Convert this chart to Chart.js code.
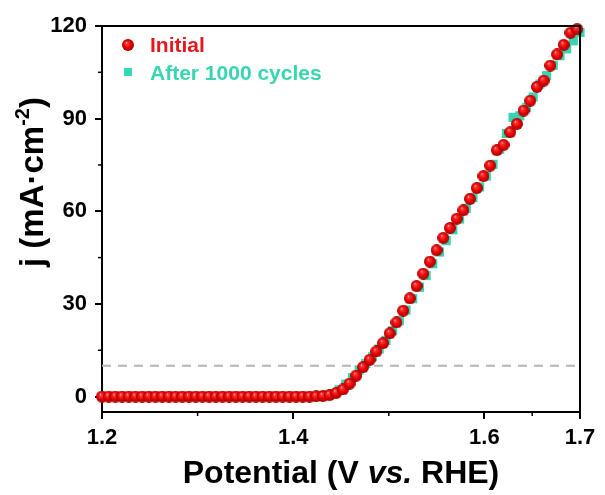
<!DOCTYPE html>
<html>
<head>
<meta charset="utf-8">
<script src="https://cdn.jsdelivr.net/npm/chart.js@4.4.1/dist/chart.umd.min.js"></script>
<style>
  body { margin: 0; background: #fff; }
  canvas { display: block; }
</style>
</head>
<body>
<canvas id="lsv" width="605" height="495"></canvas>
<script>
// potential (V vs. RHE) and current density (mA cm-2)
const potentialInitial = [
  1.200, 1.207, 1.214, 1.221, 1.228, 1.235, 1.242, 1.249, 1.256, 1.263,
  1.270, 1.277, 1.284, 1.291, 1.298, 1.305, 1.312, 1.319, 1.326, 1.333,
  1.340, 1.347, 1.354, 1.361, 1.368, 1.375, 1.382, 1.389, 1.396, 1.403,
  1.410, 1.417, 1.424, 1.431, 1.438, 1.445, 1.452, 1.459, 1.466, 1.473,
  1.480, 1.487, 1.494, 1.501, 1.508, 1.515, 1.522, 1.529, 1.536, 1.543,
  1.550, 1.557, 1.564, 1.571, 1.578, 1.585, 1.592, 1.599, 1.606, 1.613,
  1.620, 1.627, 1.634, 1.641, 1.648, 1.655, 1.662, 1.669, 1.676, 1.683,
  1.690, 1.697
];
const currentInitial = [
  0, 0, 0, 0, 0, 0, 0, 0, 0, 0,
  0, 0, 0, 0, 0, 0, 0, 0, 0, 0,
  0, 0, 0, 0, 0, 0, 0, 0, 0, 0,
  0, 0, 0.1, 0.2, 0.5, 1.2, 2.3, 4.2, 6.8, 9.5,
  11.9, 14.6, 17.3, 20.5, 24.0, 27.8, 31.8, 35.8, 39.8, 43.7,
  47.4, 51.4, 54.6, 57.6, 60.3, 64.0, 67.5, 71.4, 74.8, 79.8,
  81.5, 85.6, 88.3, 92.6, 95.8, 100.3, 102.3, 107.2, 110.8, 113.9,
  117.8, 119.0
];
const potentialCycled = [
  1.203, 1.210, 1.217, 1.224, 1.231, 1.238, 1.245, 1.252, 1.259, 1.266,
  1.273, 1.280, 1.287, 1.294, 1.301, 1.308, 1.315, 1.322, 1.329, 1.336,
  1.343, 1.350, 1.357, 1.364, 1.371, 1.378, 1.385, 1.392, 1.399, 1.406,
  1.413, 1.420, 1.427, 1.434, 1.441, 1.448, 1.455, 1.462, 1.469, 1.476,
  1.483, 1.490, 1.497, 1.504, 1.511, 1.518, 1.525, 1.532, 1.539, 1.546,
  1.553, 1.560, 1.567, 1.574, 1.581, 1.588, 1.595, 1.602, 1.609, 1.616,
  1.623, 1.630, 1.637, 1.644, 1.651, 1.658, 1.665, 1.672, 1.679, 1.686,
  1.693, 1.700
];
const currentCycled = [
  0, 0, 0, 0, 0, 0, 0, 0, 0, 0,
  0, 0, 0, 0, 0, 0, 0, 0, 0, 0,
  0, 0, 0, 0, 0, 0, 0, 0, 0, 0,
  0, 0, 0.2, 0.4, 0.9, 2.2, 4.0, 6.1, 8.6, 10.7,
  12.9, 15.4, 18.2, 21.3, 24.5, 28.0, 31.7, 35.4, 39.2, 43.0,
  46.8, 50.5, 54.0, 57.5, 60.9, 64.4, 67.9, 71.4, 75.2, 80.1,
  85.2, 90.4, 90.9, 93.6, 97.0, 101.2, 103.9, 107.3, 110.4, 112.6,
  115.2, 117.9
];
// 10 mA cm-2 reference line
const refLineX = [1.2, 1.7];
const refLineY = [10, 10];

const xTicks = [1.2, 1.4, 1.6, 1.7];
const xMinorTicks = [1.3, 1.5, 1.65];
const yTicks = [0, 30, 60, 90, 120];
const yMinorTicks = [15, 45, 75, 105];

const RED = "#e3191f";
const TEAL = "#38d5b1";
const FONT = "'Liberation Sans', Arial, sans-serif";

function makeSphere(d) {
  const c = document.createElement("canvas");
  c.width = c.height = d;
  const g = c.getContext("2d");
  const r = d / 2;
  const grad = g.createRadialGradient(r * 0.72, r * 0.62, 0, r, r, r);
  grad.addColorStop(0, "#ffe4e4");
  grad.addColorStop(0.18, "#ff3a3a");
  grad.addColorStop(0.65, "#e20000");
  grad.addColorStop(1, "#a00000");
  g.fillStyle = grad;
  g.beginPath();
  g.arc(r, r, r, 0, Math.PI * 2);
  g.fill();
  return c;
}
const sphere = makeSphere(12);

const toPoints = (xs, ys) => xs.map((v, i) => ({ x: v, y: ys[i] }));

const framePlugin = {
  id: "frameAndText",
  afterDraw(chart) {
    const { ctx, chartArea: a, scales } = chart;
    const x = scales.x, y = scales.y;
    ctx.save();
    // top and right frame
    ctx.strokeStyle = "#000";
    ctx.lineWidth = 2;
    ctx.beginPath();
    ctx.moveTo(a.left, a.top);
    ctx.lineTo(a.right, a.top);
    ctx.lineTo(a.right, a.bottom);
    ctx.stroke();

    // minor ticks
    ctx.lineWidth = 1.5;
    yMinorTicks.forEach(v => {
      const py = y.getPixelForValue(v);
      ctx.beginPath();
      ctx.moveTo(a.left, py);
      ctx.lineTo(a.left - 4, py);
      ctx.stroke();
    });
    xMinorTicks.forEach(v => {
      const px = x.getPixelForValue(v);
      ctx.beginPath();
      ctx.moveTo(px, a.bottom);
      ctx.lineTo(px, a.bottom + 4);
      ctx.stroke();
    });

    // x title with italic "vs."
    ctx.fillStyle = "#000";
    ctx.textBaseline = "alphabetic";
    ctx.textAlign = "left";
    const parts = [
      ["Potential (V ", "bold 32px " + FONT],
      ["vs.", "italic bold 32px " + FONT],
      [" RHE)", "bold 32px " + FONT]
    ];
    let total = 0;
    parts.forEach(p => { ctx.font = p[1]; total += ctx.measureText(p[0]).width; });
    let cx = (a.left + a.right) / 2 - total / 2;
    parts.forEach(p => {
      ctx.font = p[1];
      ctx.fillText(p[0], cx, 483);
      cx += ctx.measureText(p[0]).width;
    });

    // y title, rotated
    ctx.save();
    ctx.translate(43, 182);
    ctx.rotate(-Math.PI / 2);
    const yParts = [
      ["j (mA\u00b7cm", "bold 33px " + FONT, 0],
      ["-2", "bold 20px " + FONT, -14],
      [")", "bold 33px " + FONT, 0]
    ];
    total = 0;
    yParts.forEach(p => { ctx.font = p[1]; total += ctx.measureText(p[0]).width; });
    cx = -total / 2;
    yParts.forEach(p => {
      ctx.font = p[1];
      ctx.fillText(p[0], cx, p[2]);
      cx += ctx.measureText(p[0]).width;
    });
    ctx.restore();

    // legend
    ctx.drawImage(sphere, 128 - 6, 45 - 6, 12, 12);
    ctx.fillStyle = TEAL;
    ctx.fillRect(124, 68, 8, 8);
    ctx.font = "bold 21px " + FONT;
    ctx.fillStyle = RED;
    ctx.fillText("Initial", 150, 52);
    ctx.fillStyle = TEAL;
    ctx.fillText("After 1000 cycles", 150, 80);
    ctx.restore();
  }
};

new Chart(document.getElementById("lsv").getContext("2d"), {
  type: "scatter",
  data: {
    datasets: [
      {
        label: "Initial",
        data: toPoints(potentialInitial, currentInitial),
        pointStyle: sphere,
        pointRadius: 6,
        clip: 8
      },
      {
        label: "After 1000 cycles",
        data: toPoints(potentialCycled, currentCycled),
        pointStyle: "rect",
        pointRadius: 6.5,
        backgroundColor: TEAL,
        borderColor: TEAL,
        borderWidth: 0,
        clip: 8
      },
      {
        label: "10 mA",
        data: toPoints(refLineX, refLineY),
        showLine: true,
        pointRadius: 0,
        borderColor: "#b4b4b4",
        borderWidth: 2,
        borderDash: [9, 7]
      }
    ]
  },
  options: {
    responsive: false,
    animation: false,
    events: [],
    layout: { padding: { top: 26, right: 25, left: 0, bottom: 0 } },
    plugins: {
      legend: { display: false },
      tooltip: { enabled: false }
    },
    scales: {
      x: {
        type: "linear",
        min: 1.2,
        max: 1.7,
        afterFit: s => { s.height = 83; },
        afterBuildTicks: s => { s.ticks = xTicks.map(v => ({ value: v })); },
        grid: { drawOnChartArea: false, drawTicks: true, tickLength: 7, color: "#000", lineWidth: 2 },
        border: { display: true, color: "#000", width: 2 },
        ticks: {
          color: "#000",
          padding: 6,
          font: { family: FONT, size: 22, weight: "bold" },
          callback: v => v.toFixed(1)
        }
      },
      y: {
        type: "linear",
        min: -5,
        max: 120,
        afterFit: s => { s.width = 102; },
        afterBuildTicks: s => { s.ticks = yTicks.map(v => ({ value: v })); },
        grid: { drawOnChartArea: false, drawTicks: true, tickLength: 7, color: "#000", lineWidth: 2 },
        border: { display: true, color: "#000", width: 2 },
        ticks: {
          color: "#000",
          padding: 8,
          font: { family: FONT, size: 22, weight: "bold" }
        }
      }
    }
  },
  plugins: [framePlugin]
});
</script>
</body>
</html>
